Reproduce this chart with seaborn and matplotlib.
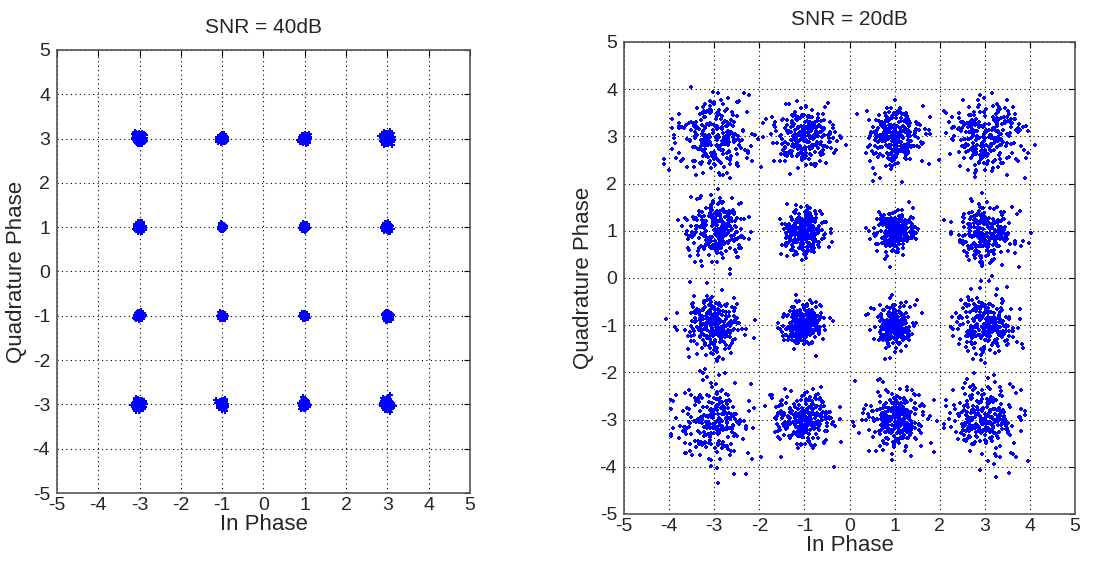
import numpy as np
import pandas as pd
import seaborn as sns
import matplotlib.pyplot as plt

# 16-QAM symbol positions
levels = [-3, -1, 1, 3]
i_centres = [i for i in levels for q in levels]
q_centres = [q for i in levels for q in levels]

# estimated cloud spread (std) per symbol, outer symbols spread more
spread_40db = [0.055 if abs(i) + abs(q) > 4 else 0.04 if abs(i) + abs(q) > 2 else 0.028
               for i, q in zip(i_centres, q_centres)]
spread_20db = [0.40 if abs(i) + abs(q) > 4 else 0.31 if abs(i) + abs(q) > 2 else 0.22
               for i, q in zip(i_centres, q_centres)]
points_per_symbol = 260

titles = ["SNR = 40dB", "SNR = 20dB"]
ticks = [-5, -4, -3, -2, -1, 0, 1, 2, 3, 4, 5]

# the noise clouds cannot be read point by point; a seeded generator
# scatters them around the symbols with the spread estimated above
rng = np.random.default_rng(7)


def cloud(spreads):
    rows = []
    for ic, qc, s in zip(i_centres, q_centres, spreads):
        rows.append(pd.DataFrame({
            "I": ic + s * rng.standard_normal(points_per_symbol),
            "Q": qc + s * rng.standard_normal(points_per_symbol),
        }))
    return pd.concat(rows, ignore_index=True)


sns.set_style("white")
plt.rcParams["font.family"] = ["Liberation Sans", "DejaVu Sans"]
plt.rcParams["axes.unicode_minus"] = False

fig = plt.figure(figsize=(11.06, 5.61), dpi=100)
ax1 = fig.add_axes([0.0515, 0.1212, 0.3734, 0.7897])
ax2 = fig.add_axes([0.5642, 0.0838, 0.4078, 0.8414])

for ax, spreads, title, size in [(ax1, spread_40db, titles[0], 14),
                                  (ax2, spread_20db, titles[1], 10)]:
    df = cloud(spreads)
    sns.scatterplot(data=df, x="I", y="Q", ax=ax, color="#0000ff",
                    marker="P", s=size, linewidth=0, legend=False)
    ax.set_xlim(-5, 5)
    ax.set_ylim(-5, 5)
    ax.set_xticks(ticks)
    ax.set_yticks(ticks)
    ax.grid(True, color="black", linestyle=(0, (1, 3)), linewidth=0.8)
    ax.set_axisbelow(True)
    ax.tick_params(direction="in", length=4, labelsize=14, top=True, right=True,
                   color="black")
    ax.tick_params(axis="x", pad=3)
    ax.tick_params(axis="y", pad=5)
    for sp in ax.spines.values():
        sp.set_color("#555555")
        sp.set_linewidth(1.2)
    ax.set_title(title, fontsize=15, pad=12)
    ax.set_xlabel("In Phase", fontsize=16, labelpad=0)
    ax.set_ylabel("Quadrature Phase", fontsize=16, labelpad=4)

fig.savefig("out.png", dpi=100)
